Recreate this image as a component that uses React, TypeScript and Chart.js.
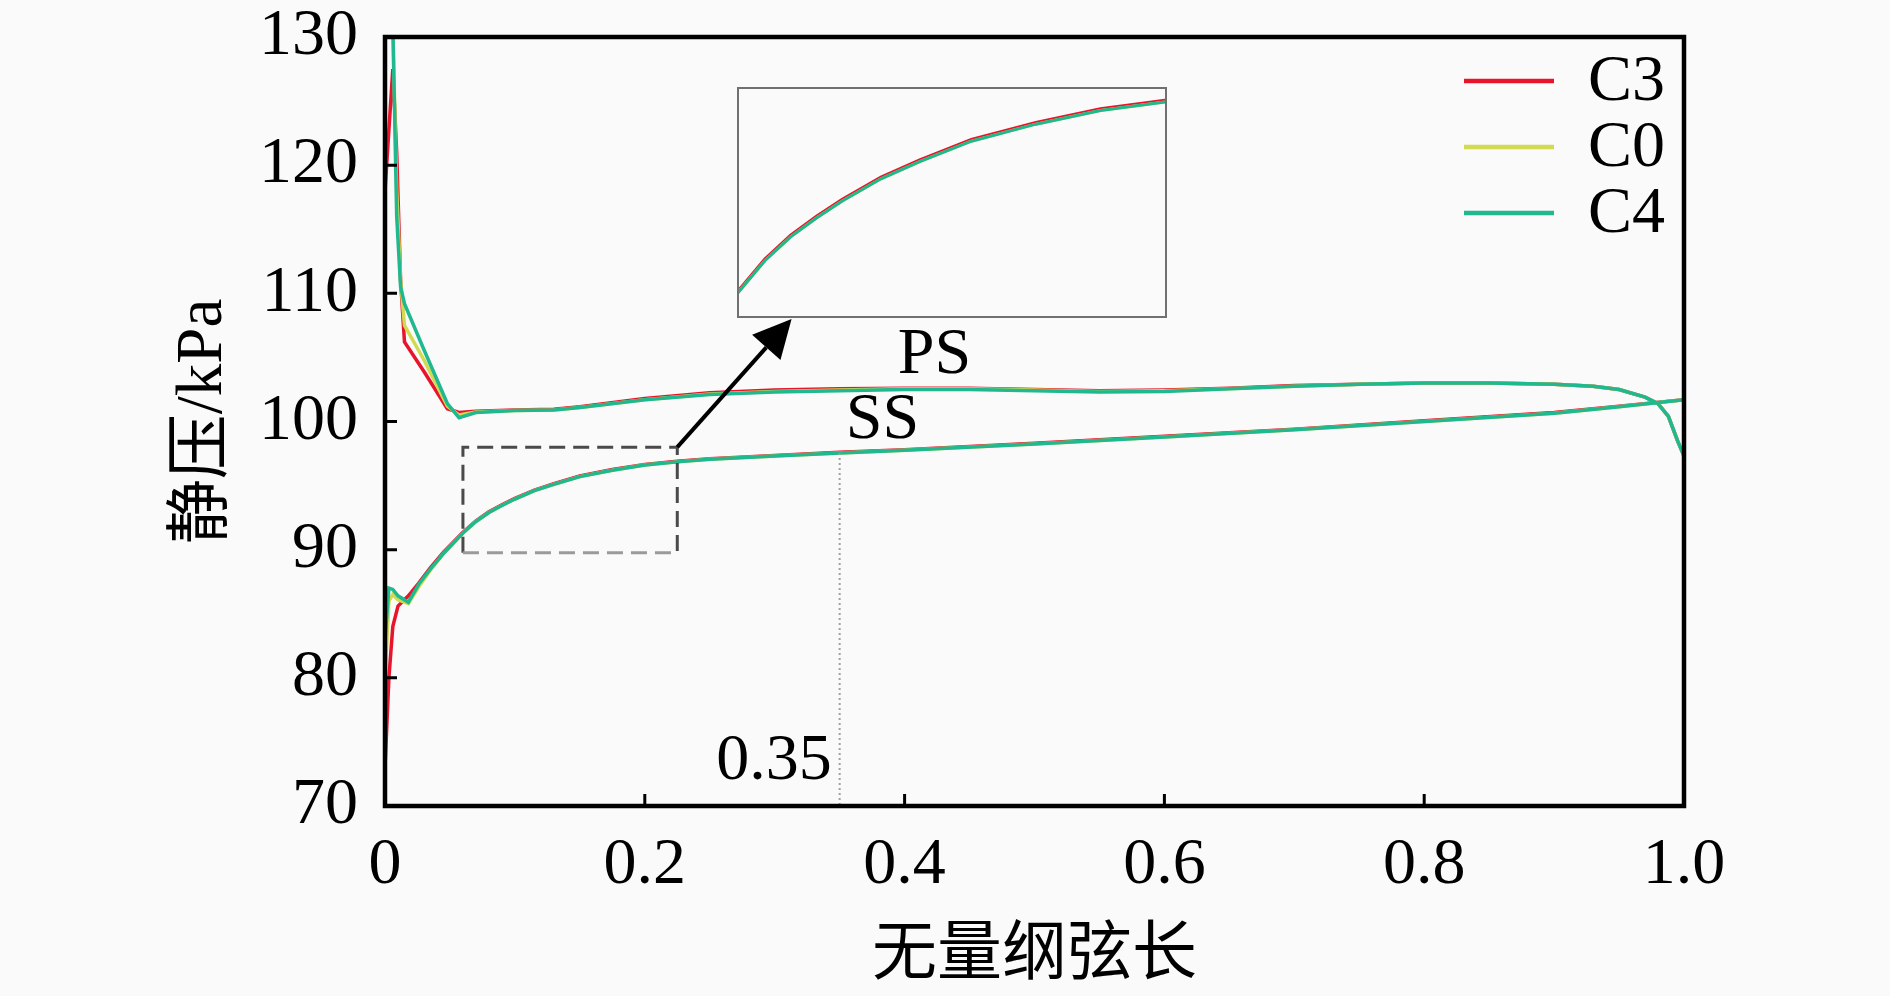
import React, { useEffect, useRef } from 'react';
import { Chart, registerables } from 'chart.js';

Chart.register(...registerables);

// ---- data ----
const seriesNames = ['C3', 'C0', 'C4'];
const seriesColors = ['#e8142c', '#d2da52', '#20b88e'];

// suction side (SS), chord position from leading to trailing edge
const ssX = [0, 0.003, 0.006, 0.01, 0.018, 0.026, 0.035, 0.045, 0.06, 0.07, 0.08, 0.09, 0.1, 0.115, 0.13, 0.15, 0.175, 0.2, 0.225, 0.25, 0.3, 0.35, 0.4, 0.5, 0.6, 0.7, 0.8, 0.9, 0.95, 1.0];
const ssC3 = [73, 80, 84, 85.6, 86.4, 87.4, 88.6, 89.8, 91.35, 92.25, 92.95, 93.5, 94.0, 94.65, 95.15, 95.75, 96.25, 96.65, 96.9, 97.1, 97.35, 97.6, 97.8, 98.3, 98.85, 99.4, 100.05, 100.7, 101.2, 101.7];
const ssC0 = [80, 86, 86.5, 86.1, 85.8, 87.1, 88.4, 89.7, 91.3, 92.2, 92.9, 93.45, 93.95, 94.6, 95.1, 95.7, 96.2, 96.6, 96.85, 97.05, 97.3, 97.55, 97.75, 98.25, 98.8, 99.35, 100.0, 100.65, 101.15, 101.7];
const ssC4 = [83, 87, 86.9, 86.4, 85.9, 87.3, 88.5, 89.7, 91.3, 92.2, 92.9, 93.45, 93.95, 94.6, 95.1, 95.7, 96.2, 96.6, 96.85, 97.05, 97.3, 97.55, 97.75, 98.25, 98.8, 99.35, 100.0, 100.65, 101.15, 101.7];

// pressure side (PS)
const psX = [0, 0.006, 0.009, 0.012, 0.015, 0.03, 0.048, 0.057, 0.07, 0.1, 0.13, 0.15, 0.2, 0.25, 0.3, 0.35, 0.4, 0.45, 0.5, 0.55, 0.6, 0.65, 0.7, 0.75, 0.8, 0.85, 0.9, 0.93, 0.95, 0.97, 0.98, 0.988, 0.995, 1.0];
const psC3 = [118, 127.5, 121, 111, 106.2, 103.9, 101.0, 100.7, 100.8, 100.9, 100.95, 101.15, 101.8, 102.25, 102.45, 102.55, 102.6, 102.6, 102.5, 102.4, 102.45, 102.6, 102.8, 102.9, 103.0, 103.0, 102.9, 102.75, 102.5, 101.9, 101.4, 100.4, 98.5, 97.3];
const psC0 = [130, 131, 118, 111, 107.5, 104.8, 101.2, 100.5, 100.75, 100.85, 100.9, 101.1, 101.7, 102.15, 102.35, 102.45, 102.55, 102.55, 102.45, 102.35, 102.4, 102.55, 102.75, 102.9, 103.0, 103.0, 102.9, 102.75, 102.5, 101.9, 101.4, 100.4, 98.5, 97.3];
const psC4 = [132, 131, 116, 110.5, 109.2, 105.6, 101.4, 100.3, 100.7, 100.85, 100.9, 101.1, 101.7, 102.1, 102.3, 102.4, 102.5, 102.5, 102.4, 102.3, 102.35, 102.55, 102.75, 102.9, 103.0, 103.0, 102.9, 102.75, 102.5, 101.9, 101.4, 100.4, 98.5, 97.3];

const ssSeries = [ssC3, ssC0, ssC4];
const psSeries = [psC3, psC0, psC4];

const xTickLabels = ['0', '0.2', '0.4', '0.6', '0.8', '1.0'];
const xTitle = '无量纲弦长';
const yTitle = '静压/kPa';

// annotation anchors (data coordinates)
const zoomBox = [0.06, 0.225, 89.75, 98.0]; // x0, x1, y0, y1
const insetBox = [0.271, 0.602, 108.1, 126.1];
const insetRange = [0.06, 0.225, 90.58, 97.23];
const arrowTip = [0.313, 108.0];
const markX = 0.35;
const markLabel = '0.35';
const markLabelY = 73.45;
const sideLabels = [
  { text: 'PS', x: 0.423, y: 105.1 },
  { text: 'SS', x: 0.383, y: 100.05 },
];

const FONT = "'Liberation Serif', 'Noto Sans CJK SC', serif";
const TICK_SIZE = 66;

function loop(ss: number[], ps: number[]) {
  const pts = ssX.map((x, i) => ({ x, y: ss[i] }));
  for (let i = psX.length - 1; i >= 0; i--) pts.push({ x: psX[i], y: ps[i] });
  return pts;
}

function makeDatasets(width: number) {
  return seriesNames.map((name, i) => ({
    label: name,
    data: loop(ssSeries[i], psSeries[i]),
    borderColor: seriesColors[i],
    backgroundColor: seriesColors[i],
    borderWidth: width,
    pointRadius: 0,
    tension: 0,
    fill: false,
    order: seriesNames.length - i,
  }));
}

const decorPlugin = {
  id: 'decor',
  afterDatasetsDraw(chart: any) {
    const { ctx, chartArea } = chart;
    const xs = chart.scales.x;
    const ys = chart.scales.y;
    const px = (v: number) => xs.getPixelForValue(v);
    const py = (v: number) => ys.getPixelForValue(v);
    const { left, right, top, bottom } = chartArea;
    ctx.save();

    // dotted marker line at x = 0.35 from SS curve down
    const mi = ssX.indexOf(markX);
    const markTop = mi >= 0 ? ssC4[mi] : 97.5;
    ctx.strokeStyle = '#a0a0a0';
    ctx.lineWidth = 2;
    ctx.setLineDash([2, 3]);
    ctx.beginPath();
    ctx.moveTo(px(markX), py(markTop));
    ctx.lineTo(px(markX), bottom);
    ctx.stroke();

    // dashed zoom box
    ctx.lineWidth = 3;
    ctx.setLineDash([16, 8]);
    const bx0 = px(zoomBox[0]), bx1 = px(zoomBox[1]), by0 = py(zoomBox[2]), by1 = py(zoomBox[3]);
    ctx.strokeStyle = '#4a4a4a';
    ctx.beginPath();
    ctx.moveTo(bx0, by0);
    ctx.lineTo(bx0, by1);
    ctx.lineTo(bx1, by1);
    ctx.lineTo(bx1, by0);
    ctx.stroke();
    ctx.strokeStyle = '#9a9a9a';
    ctx.beginPath();
    ctx.moveTo(bx0, by0);
    ctx.lineTo(bx1, by0);
    ctx.stroke();
    ctx.setLineDash([]);

    // arrow
    const ax0 = bx1, ay0 = by1, ax1 = px(arrowTip[0]), ay1 = py(arrowTip[1]);
    const ang = Math.atan2(ay1 - ay0, ax1 - ax0);
    const headLen = 38, headW = 19;
    const bxh = ax1 - headLen * Math.cos(ang), byh = ay1 - headLen * Math.sin(ang);
    ctx.strokeStyle = '#000';
    ctx.fillStyle = '#000';
    ctx.lineWidth = 4;
    ctx.beginPath();
    ctx.moveTo(ax0, ay0);
    ctx.lineTo(bxh, byh);
    ctx.stroke();
    ctx.beginPath();
    ctx.moveTo(ax1, ay1);
    ctx.lineTo(bxh + headW * Math.sin(ang), byh - headW * Math.cos(ang));
    ctx.lineTo(bxh - headW * Math.sin(ang), byh + headW * Math.cos(ang));
    ctx.closePath();
    ctx.fill();

    // texts
    ctx.font = `${TICK_SIZE}px ${FONT}`;
    ctx.fillStyle = '#000';
    ctx.textBaseline = 'middle';
    ctx.textAlign = 'center';
    sideLabels.forEach((s) => ctx.fillText(s.text, px(s.x), py(s.y)));
    ctx.textAlign = 'right';
    ctx.fillText(markLabel, px(markX) - 8, py(markLabelY));

    // frame
    ctx.strokeStyle = '#000';
    ctx.lineWidth = 4.5;
    ctx.strokeRect(left, top, right - left, bottom - top);

    // inward ticks
    ctx.lineWidth = 3;
    ctx.beginPath();
    ys.ticks.forEach((t: any) => {
      if (t.value <= ys.min || t.value >= ys.max) return;
      const y = py(t.value);
      ctx.moveTo(left, y);
      ctx.lineTo(left + 12, y);
    });
    xs.ticks.forEach((t: any) => {
      if (t.value <= xs.min + 1e-9 || t.value >= xs.max - 1e-9) return;
      const x = px(t.value);
      ctx.moveTo(x, bottom);
      ctx.lineTo(x, bottom - 12);
    });
    ctx.stroke();

    // legend
    const ds = chart.data.datasets;
    ds.forEach((d: any, i: number) => {
      const y = top + 44 + i * 66;
      ctx.strokeStyle = d.borderColor;
      ctx.lineWidth = 4.5;
      ctx.beginPath();
      ctx.moveTo(right - 220, y);
      ctx.lineTo(right - 130, y);
      ctx.stroke();
      ctx.fillStyle = '#000';
      ctx.textAlign = 'left';
      ctx.textBaseline = 'middle';
      ctx.fillText(d.label, right - 96, y + 2);
    });

    ctx.restore();
  },
};

export default function App() {
  const mainRef = useRef<HTMLCanvasElement>(null);
  const insetRef = useRef<HTMLCanvasElement>(null);
  const insetDivRef = useRef<HTMLDivElement>(null);

  useEffect(() => {
    document.body.style.margin = '0';
    document.body.style.background = '#fafafa';
    const titleFont = { family: FONT, size: 65, lineHeight: 1.2 };
    const chart = new Chart(mainRef.current as HTMLCanvasElement, {
      type: 'line',
      data: { datasets: makeDatasets(3.5) as any },
      options: {
        responsive: false,
        animation: false,
        layout: { padding: { left: 146, top: 37, right: 206, bottom: 0 } },
        plugins: { legend: { display: false }, tooltip: { enabled: false } },
        scales: {
          x: {
            type: 'linear',
            min: 0,
            max: 1,
            grid: { display: false, drawTicks: false },
            border: { display: false },
            ticks: {
              stepSize: 0.2,
              padding: 27,
              color: '#000',
              font: { family: FONT, size: TICK_SIZE, lineHeight: 1 },
              maxRotation: 0,
              autoSkip: false,
              callback: (_v: any, i: number) => xTickLabels[i],
            },
            title: { display: true, text: xTitle, color: '#000', font: titleFont, padding: { top: 0, bottom: 0 } },
            afterFit: (s: any) => { s.height = 190; },
          },
          y: {
            type: 'linear',
            min: 70,
            max: 130,
            grid: { display: false, drawTicks: false },
            border: { display: false },
            ticks: {
              stepSize: 10,
              padding: 27,
              color: '#000',
              autoSkip: false,
              font: { family: FONT, size: TICK_SIZE, lineHeight: 0.15 },
            },
            title: { display: true, text: yTitle, color: '#000', font: titleFont, padding: { top: 19, bottom: 0 } },
            afterFit: (s: any) => { s.width = 239; },
          },
        },
      } as any,
      plugins: [decorPlugin],
    });

    // inset positioned by the main chart's scales
    const xs = chart.scales.x;
    const ys = chart.scales.y;
    const l = xs.getPixelForValue(insetBox[0]);
    const r = xs.getPixelForValue(insetBox[1]);
    const t = ys.getPixelForValue(insetBox[3]);
    const b = ys.getPixelForValue(insetBox[2]);
    const div = insetDivRef.current as HTMLDivElement;
    div.style.left = `${l}px`;
    div.style.top = `${t}px`;
    div.style.width = `${r - l}px`;
    div.style.height = `${b - t}px`;
    const ic = insetRef.current as HTMLCanvasElement;
    const iw = Math.round(r - l - 4);
    const ih = Math.round(b - t - 4);
    ic.width = iw;
    ic.height = ih;
    ic.style.width = `${iw}px`;
    ic.style.height = `${ih}px`;
    const inset = new Chart(ic, {
      type: 'line',
      data: { datasets: makeDatasets(3) as any },
      options: {
        responsive: false,
        animation: false,
        layout: { padding: 0 },
        plugins: { legend: { display: false }, tooltip: { enabled: false } },
        scales: {
          x: { type: 'linear', display: false, min: insetRange[0], max: insetRange[1] },
          y: { type: 'linear', display: false, min: insetRange[2], max: insetRange[3] },
        },
      } as any,
    });

    return () => {
      chart.destroy();
      inset.destroy();
    };
  }, []);

  return (
    <div style={{ position: 'relative', width: 1890, height: 996, background: '#fafafa' }}>
      <canvas ref={mainRef} width={1890} height={996} style={{ display: 'block', width: 1890, height: 996 }} />
      <div
        ref={insetDivRef}
        style={{ position: 'absolute', boxSizing: 'border-box', border: '2px solid #707070', background: '#fafafa' }}
      >
        <canvas ref={insetRef} style={{ display: 'block' }} />
      </div>
    </div>
  );
}
